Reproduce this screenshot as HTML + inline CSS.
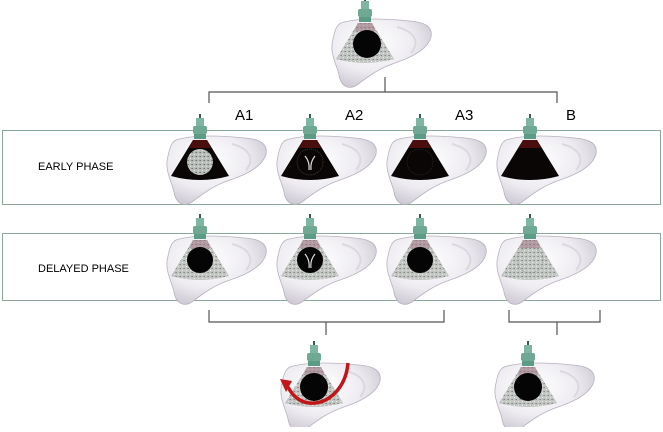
<!DOCTYPE html>
<html><head><style>
body{margin:0;background:#fff;width:663px;height:427px;overflow:hidden}
text{font-family:"Liberation Sans",sans-serif}
</style></head><body>
<svg width="663" height="427" viewBox="0 0 663 427" xmlns="http://www.w3.org/2000/svg">
<defs>
<radialGradient id="lg" cx="0.4" cy="0.35" r="0.75">
<stop offset="0" stop-color="#ffffff"/><stop offset="0.55" stop-color="#eeecf1"/><stop offset="1" stop-color="#c6c0cc"/>
</radialGradient>
<pattern id="sp" width="4" height="4" patternUnits="userSpaceOnUse">
<rect width="4" height="4" fill="#b9bdb9"/><rect x="0" y="0" width="1" height="1" fill="#6f7a74"/><rect x="2" y="2" width="1" height="1" fill="#e6e8e6"/><rect x="3" y="0" width="1" height="1" fill="#8a948e"/>
</pattern>
<g id="liver">
<path d="M-24,0 C-5,-6 25,-4 45,-2 C60,-1 68,4 66,14 C63,26 48,34 30,40 C15,45 5,52 -8,62 C-16,67 -24,64 -26,52 C-28,42 -36,30 -32,16 C-30,6 -28,2 -24,0Z" fill="url(#lg)" stroke="#b8b2bf" stroke-width="0.8"/>
<path d="M32,4 C48,8 56,18 46,30" fill="none" stroke="#dcd8e0" stroke-width="2"/>
</g>
<g id="probe">
<rect x="-1" y="-26" width="2" height="4" fill="#3a5a50"/>
<rect x="-4" y="-22" width="8" height="8" fill="#7fb5a3"/>
<rect x="-7" y="-14" width="14" height="8" rx="2" fill="#6fa893"/>
<rect x="-6" y="-6" width="12" height="5" fill="#5c9b85"/>
</g>
<path id="fan" d="M-7,0 L7,0 L29,36 Q0,44 -29,36Z"/>
<g id="early">
<use href="#liver"/>
<use href="#fan" fill="#0a0606"/>
<path d="M-7,0 L7,0 L11,8 L-11,8Z" fill="#5a1010" opacity="0.8"/>
<use href="#probe"/>
</g>
<g id="delayed">
<use href="#liver"/>
<use href="#fan" fill="url(#sp)" opacity="0.85"/>
<path d="M-7,0 L7,0 L11,8 L-11,8Z" fill="#a07080" opacity="0.5"/>
<use href="#probe"/>
</g>
</defs>

<!-- top -->
<g transform="translate(365,23)"><use href="#delayed"/><circle cx="2" cy="21" r="14" fill="#050505"/></g>
<path d="M209,103 V92 H557 V103 M385,77 V92" fill="none" stroke="#555" stroke-width="1.2"/>

<text x="235" y="120" font-size="15">A1</text>
<text x="345" y="120" font-size="15">A2</text>
<text x="455" y="120" font-size="15">A3</text>
<text x="566" y="120" font-size="15">B</text>

<rect x="2.5" y="130.5" width="658" height="74" fill="none" stroke="#8aa89a" stroke-width="1"/>
<text x="38" y="170" font-size="11">EARLY PHASE</text>
<g transform="translate(200,140)"><use href="#early"/><circle cx="0" cy="22" r="13" fill="url(#sp)"/></g>
<g transform="translate(310,140)"><use href="#early"/><circle cx="0" cy="22" r="13" fill="none" stroke="#555" stroke-width="0.6" stroke-dasharray="1,1"/><path d="M-5,16 Q0,22 -1,30 M5,16 Q0,22 1,30" fill="none" stroke="#ddd" stroke-width="1.2"/></g>
<g transform="translate(420,140)"><use href="#early"/><circle cx="0" cy="22" r="13" fill="none" stroke="#333" stroke-width="0.6" stroke-dasharray="1,1"/></g>
<g transform="translate(530,140)"><use href="#early"/></g>

<rect x="2.5" y="233.5" width="658" height="67" fill="none" stroke="#8aa89a" stroke-width="1"/>
<text x="38" y="272" font-size="11">DELAYED PHASE</text>
<g transform="translate(200,240)"><use href="#delayed"/><circle cx="0" cy="20" r="13" fill="#050505"/></g>
<g transform="translate(310,240)"><use href="#delayed"/><circle cx="0" cy="20" r="13" fill="#050505"/><path d="M-5,14 Q0,20 -1,28 M5,14 Q0,20 1,28" fill="none" stroke="#ddd" stroke-width="1.2"/></g>
<g transform="translate(420,240)"><use href="#delayed"/><circle cx="0" cy="20" r="13" fill="#050505"/></g>
<g transform="translate(530,240)"><use href="#delayed"/><circle cx="0" cy="20" r="13" fill="none" stroke="#888" stroke-width="0.6" stroke-dasharray="1,1"/></g>

<path d="M209,310 V322 H444 V310 M326,322 V335 M509,310 V322 H600 V310 M557,322 V335" fill="none" stroke="#555" stroke-width="1.2"/>

<g transform="translate(314,367)"><use href="#delayed"/><circle cx="0" cy="20" r="14" fill="#050505"/>
<path d="M34,-4 C32,20 15,38 -5,36 C-15,35 -22,28 -26,20" fill="none" stroke="#c0161a" stroke-width="3.5"/>
<path d="M-34,12 L-22,14 L-28,25Z" fill="#c0161a"/></g>
<g transform="translate(528,367)"><use href="#delayed"/><circle cx="0" cy="20" r="14" fill="#050505"/></g>
</svg>
</body></html>
